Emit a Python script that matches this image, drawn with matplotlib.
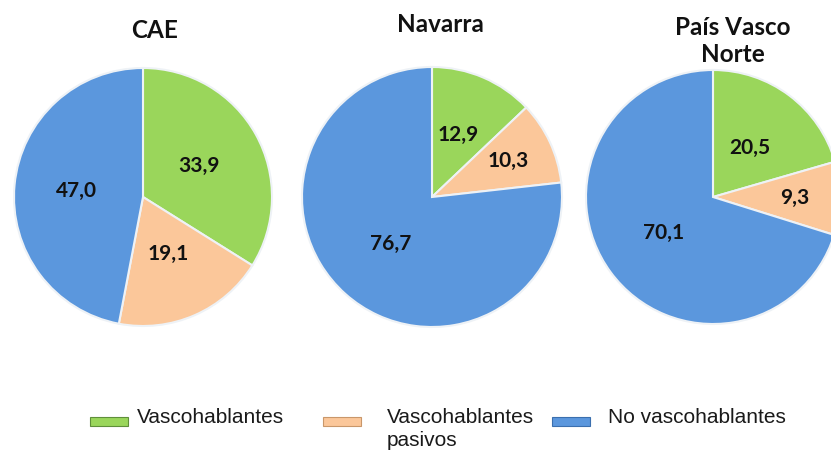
import matplotlib.pyplot as plt
from matplotlib.patches import Rectangle
import numpy as np

# datos (%)
regiones = ['CAE', 'Navarra', 'País Vasco\nNorte']
vascohablantes = [33.9, 12.9, 20.5]
pasivos = [19.1, 10.3, 9.3]
no_vascohablantes = [47.0, 76.7, 70.1]
etiquetas = ['Vascohablantes', 'Vascohablantes\npasivos', 'No vascohablantes']

colores = ['#9AD65B', '#FBC79A', '#5B97DD']
bordes_ley = ['#5f8f3a', '#c9976a', '#3b6fae']

# posicion de cada tarta (pixeles) y distancia de las etiquetas
centros = [(143, 197), (432, 197), (713, 197)]
radios = [129, 130, 127]
dist_etq = [[0.50, 0.48, 0.52], [0.52, 0.65, 0.48], [0.48, 0.64, 0.48]]
pos_titulo = [(155, 30), (440, 25), (733, 41)]

W, H = 831, 455
fig = plt.figure(figsize=(W / 100, H / 100), dpi=100)
ax = fig.add_axes([0, 0, 1, 1])

for i, reg in enumerate(regiones):
    vals = [vascohablantes[i], pasivos[i], no_vascohablantes[i]]
    cx, cy = centros[i]
    cy = H - cy
    r = radios[i]
    wedges, _ = ax.pie(vals, colors=colores, startangle=90, counterclock=False,
                       center=(cx, cy), radius=r, frame=True,
                       wedgeprops=dict(edgecolor='#eef2f6', linewidth=1.5))
    tot = sum(vals)
    ang0 = 90.0
    for j, v in enumerate(vals):
        ang = ang0 - 360.0 * v / tot / 2
        ang0 -= 360.0 * v / tot
        d = dist_etq[i][j] * r
        ax.text(cx + d * np.cos(np.radians(ang)), cy + d * np.sin(np.radians(ang)),
                ('%.1f' % v).replace('.', ','), ha='center', va='center',
                fontsize=15, fontweight='bold', family='Lato', color='#111111')
    # titulo
    tx, ty = pos_titulo[i]
    ax.text(tx, H - ty, reg, ha='center', va='center', fontsize=17.5,
            fontweight='bold', family='Lato', color='#111111', linespacing=1.2)

ax.set_xlim(0, W)
ax.set_ylim(0, H)
ax.set_aspect('equal')
ax.axis('off')

# leyenda (a mano, para imitar la de Excel)
ley_x = [90, 323, 552]
ley_txt_x = [137, 387, 608]
ley_y = H - 421
for k in range(3):
    ax.add_patch(Rectangle((ley_x[k], ley_y - 4.5), 38, 9, facecolor=colores[k],
                           edgecolor=bordes_ley[k], linewidth=0.8))
    ax.text(ley_txt_x[k], H - 408, etiquetas[k], ha='left', va='top',
            fontsize=15, family='Liberation Sans', color='#1a1a1a',
            linespacing=1.25)

fig.savefig('out.png', dpi=100)
